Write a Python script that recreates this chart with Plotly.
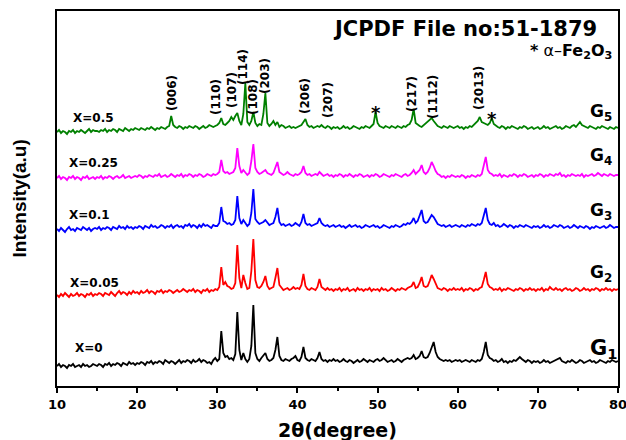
import numpy as np
import plotly.graph_objects as go

# 2-theta sampling grid: 10 .. 80 degrees, step 0.25
X_START, X_STEP, N_PTS = 10.0, 0.25, 281
two_theta = np.round(X_START + X_STEP * np.arange(N_PTS), 2)

# intensities (a.u.), 20 values per row = 5 degrees per row
g1 = [
    20,22,19,21,20,18,21,20,22,19,20,21,19,22,20,21,19,20,22,21,
    20,22,21,19,22,21,23,20,22,21,23,22,20,23,22,21,24,22,23,21,
    23,22,24,23,21,24,23,25,22,24,23,25,24,22,26,24,23,25,24,22,
    24,26,23,25,24,26,25,23,26,24,25,27,24,26,25,23,24,22,26,28,
    25,27,55,33,29,30,27,28,26,32,74,36,26,33,27,24,27,40,81,33,
    27,25,28,30,33,27,25,26,28,36,49,30,26,25,27,26,25,27,28,30,
    26,25,29,39,28,26,25,27,26,25,28,34,27,25,26,24,26,25,27,25,
    26,24,25,27,25,24,26,25,23,25,26,24,25,27,25,24,26,25,24,26,
    27,25,26,28,26,24,25,26,24,25,27,25,24,26,27,28,27,28,31,27,
    28,30,35,29,28,29,33,38,44,34,29,27,26,25,26,25,26,24,25,26,
    25,26,24,25,26,25,24,26,25,24,26,25,27,34,44,31,28,27,25,26,
    24,25,27,24,25,23,25,24,26,25,27,29,27,25,24,26,25,23,25,24,
    25,23,24,26,24,25,23,24,25,26,27,28,25,24,23,25,24,26,24,23,
    24,26,25,23,24,25,26,24,25,23,24,26,25,24,23,25,24,26,25,24,
    25,
]
g2 = [
    21,19,22,20,23,21,19,22,20,21,23,20,22,21,19,22,21,23,20,22,
    21,23,22,20,23,22,21,24,22,20,23,25,22,24,23,21,24,22,25,23,
    24,22,25,23,24,26,23,25,24,22,25,24,26,23,25,24,26,25,23,25,
    26,24,25,27,25,24,26,25,27,24,26,25,23,26,25,27,24,26,25,27,
    26,29,49,31,34,30,29,27,28,33,71,38,28,41,33,27,28,45,77,36,
    29,28,30,34,40,30,27,28,29,38,48,31,28,26,27,28,26,27,29,27,
    28,27,31,42,30,27,26,28,27,26,29,37,29,27,26,28,26,27,25,27,
    26,28,25,27,26,28,25,26,27,25,28,26,27,25,27,26,28,25,27,26,
    27,25,28,26,27,25,26,28,26,25,27,26,28,27,26,28,29,30,34,28,
    29,33,39,30,29,30,35,41,37,32,28,27,26,28,27,25,27,26,28,26,
    27,26,28,25,27,26,28,27,25,27,26,28,29,36,44,32,29,28,26,27,
    26,28,25,27,26,28,27,26,25,27,26,28,27,25,27,26,28,26,27,25,
    27,26,28,25,27,26,29,27,26,28,26,27,25,27,28,26,27,25,26,28,
    27,25,26,28,26,27,25,27,26,28,27,25,27,26,28,26,27,25,27,26,
    27,
]
g3 = [
    22,20,23,21,19,22,24,21,22,20,23,22,21,24,22,21,23,20,22,23,
    22,24,21,23,22,24,23,21,24,23,22,25,23,24,22,25,23,24,22,24,
    23,25,24,22,25,24,23,26,24,25,23,24,26,25,23,25,24,26,23,25,
    26,24,25,23,26,25,27,24,26,25,23,26,24,27,25,26,24,23,26,25,
    25,28,44,30,29,27,28,26,27,31,55,33,27,31,28,25,27,38,62,32,
    29,27,28,29,31,28,26,27,28,34,43,29,26,27,25,26,27,25,26,28,
    26,25,29,37,28,26,27,25,26,27,28,33,28,26,25,26,24,25,26,24,
    25,26,24,25,23,25,26,24,25,26,24,25,23,24,26,25,24,25,26,24,
    25,23,24,26,25,24,23,25,24,26,25,24,25,27,26,28,27,29,33,28,
    30,36,41,30,28,29,33,36,34,30,27,26,25,26,24,25,26,24,25,26,
    25,24,26,25,24,26,25,27,26,25,27,26,28,35,43,31,27,26,28,25,
    26,24,25,27,25,24,26,25,23,25,24,26,25,24,26,25,24,23,25,24,
    25,23,24,26,24,25,23,24,26,25,24,26,25,23,24,25,23,24,26,24,
    23,25,24,23,25,24,22,24,23,25,24,23,24,25,23,24,26,24,23,24,
    24,
]
g4 = [
    23,25,22,24,23,21,24,23,25,22,24,23,21,24,23,25,22,23,24,22,
    24,23,25,22,24,23,25,24,22,24,25,23,24,26,23,24,25,23,24,25,
    24,26,25,23,25,24,26,25,24,26,25,27,24,25,26,24,25,27,25,24,
    26,25,27,24,26,25,27,26,24,26,25,27,26,24,25,27,26,25,27,26,
    27,29,41,30,28,29,27,28,29,33,53,35,28,31,28,26,28,40,57,33,
    29,27,28,30,31,28,27,26,28,33,39,29,27,26,27,29,27,26,25,27,
    26,27,29,35,28,26,27,25,26,27,26,29,27,25,26,27,25,26,24,26,
    25,27,26,24,26,25,27,25,24,26,25,27,26,24,25,26,24,26,25,27,
    26,24,25,27,26,25,24,26,25,27,26,25,24,26,27,25,26,28,31,27,
    29,31,36,29,27,29,33,39,35,30,27,26,24,25,23,25,24,26,25,24,
    25,24,26,25,23,25,24,26,25,24,26,25,27,35,44,31,28,27,25,26,
    25,27,24,26,25,24,26,25,27,26,24,26,25,27,26,24,25,26,24,26,
    25,27,26,24,26,25,27,26,25,27,26,28,25,26,24,26,25,27,26,25,
    26,25,27,24,26,25,26,27,25,26,28,26,25,27,26,25,27,26,25,26,
    26,
]
g5 = [
    22,24,21,23,22,20,23,22,24,21,23,22,24,22,21,23,25,22,24,23,
    23,22,24,23,25,22,24,23,25,24,22,25,24,23,26,24,23,25,24,26,
    25,24,26,25,24,26,25,27,25,24,26,25,27,26,25,27,28,38,29,27,
    26,28,27,25,27,26,28,27,26,28,27,25,27,28,26,27,29,28,27,28,
    29,31,36,30,29,31,33,37,34,38,41,33,29,40,71,32,29,33,42,31,
    28,30,29,40,61,31,28,30,33,29,32,27,29,28,26,27,28,26,27,26,
    27,28,29,32,35,29,27,28,26,27,28,27,29,27,26,28,27,25,27,26,
    27,25,26,28,26,27,25,26,28,27,26,25,27,26,28,27,26,28,30,42,
    31,28,27,26,28,27,26,28,27,26,28,27,26,28,27,29,30,34,45,31,
    29,28,27,29,30,32,34,36,33,30,28,27,26,28,27,26,28,27,26,27,
    28,26,27,25,27,26,28,27,29,31,33,37,32,31,30,29,31,36,30,28,
    27,26,28,27,25,27,26,28,27,26,25,27,26,28,27,25,26,27,25,26,
    27,25,26,28,26,27,25,26,27,28,26,27,25,26,28,27,26,28,29,27,
    30,32,29,28,27,26,28,27,26,25,27,26,28,27,26,25,27,26,25,27,
    26,
]

series = [g1, g2, g3, g4, g5]
offsets = [0, 70, 135, 185, 232]
colors = ["#000000", "#FF0000", "#0000FF", "#FF00FF", "#008000"]
sample_labels = ["X=0", "X=0.05", "X=0.1", "X=0.25", "X=0.5"]
sample_label_pos = [(12.0, 38), (11.37, 103), (11.25, 171), (11.25, 223), (11.75, 268)]
g_names = ["G<sub>1</sub>", "G<sub>2</sub>", "G<sub>3</sub>", "G<sub>4</sub>", "G<sub>5</sub>"]
g_pos_y = [37, 113, 175, 230, 274]
g_sizes = [21, 17, 17, 17, 17]

hkl_labels = ["(006)", "(110)", "(107)", "(114)", "(108)", "(203)", "(206)", "(207)", "(217)", "(1112)", "(2013)"]
hkl_x = [24.35, 29.84, 31.84, 33.21, 34.46, 35.96, 40.95, 43.82, 54.30, 56.92, 62.66]
hkl_y = [293, 289, 296, 319, 289, 310, 290, 286, 292, 289, 298]
star_x = [49.81, 64.28]
star_y = [274, 268]

BOLD = "DejaVu Sans"

fig = go.Figure()
for ys, off, col in zip(series, offsets, colors):
    fig.add_trace(go.Scatter(
        x=two_theta, y=np.array(ys) + off, mode="lines",
        line=dict(color=col, width=1.8), showlegend=False, hoverinfo="skip"))

ann = []
for lab, (ax, ay) in zip(sample_labels, sample_label_pos):
    ann.append(dict(x=ax, y=ay, text="<b>" + lab + "</b>", xanchor="left", yanchor="middle",
                    font=dict(family=BOLD, size=12, color="#000")))
for name, gy, gs in zip(g_names, g_pos_y, g_sizes):
    ann.append(dict(x=76.3, y=gy, text="<b>" + name + "</b>", xanchor="left", yanchor="middle",
                    font=dict(family=BOLD, size=gs, color="#000")))
for lab, hx, hy in zip(hkl_labels, hkl_x, hkl_y):
    ann.append(dict(x=hx, y=hy, text="<b>" + lab + "</b>", textangle=-90,
                    xanchor="center", yanchor="middle",
                    font=dict(family=BOLD, size=12, color="#000")))
for sx, sy in zip(star_x, star_y):
    ann.append(dict(x=sx, y=sy, text="<b>*</b>", xanchor="center", yanchor="middle",
                    font=dict(family=BOLD, size=18, color="#000")))
ann.append(dict(x=77.6, y=357, text="<b>JCPDF File no:51-1879</b>", xanchor="right", yanchor="middle",
                font=dict(family=BOLD, size=21, color="#000")))
for a in ann:
    a.update(xref="x", yref="y", showarrow=False)

# paper-positioned texts
ann.append(dict(x=0.993, y=0.893, xref="paper", yref="paper", showarrow=False,
                text="<b>*</b> α–<b>Fe<sub>2</sub>O<sub>3</sub></b>",
                xanchor="right", yanchor="middle",
                font=dict(family=BOLD, size=16, color="#000")))
ann.append(dict(x=0.5, y=-0.117, xref="paper", yref="paper", showarrow=False,
                text="<b>2θ(degree)</b>", xanchor="center", yanchor="middle",
                font=dict(family=BOLD, size=19, color="#000")))
ann.append(dict(x=-0.066, y=0.50, xref="paper", yref="paper", showarrow=False,
                text="<b>Intensity(a.u)</b>", textangle=-90, xanchor="center", yanchor="middle",
                font=dict(family="Liberation Sans", size=19, color="#000")))

fig.update_layout(
    width=626, height=440,
    margin=dict(l=57, r=8, t=11, b=54),
    paper_bgcolor="white", plot_bgcolor="white",
    annotations=ann,
    xaxis=dict(
        range=[10, 80], dtick=10, tick0=10, automargin=False, ticklabeloverflow="allow",
        showline=True, linecolor="#000", linewidth=2, mirror=True,
        ticks="outside", ticklen=5, tickwidth=2, tickcolor="#000",
        minor=dict(dtick=5, ticks="outside", ticklen=3, tickwidth=1.5, tickcolor="#000"),
        showgrid=False, zeroline=False,
        tickfont=dict(family=BOLD, size=13, color="#000", weight="bold"),
    ),
    yaxis=dict(
        range=[0, 375], automargin=False,
        showline=True, linecolor="#000", linewidth=2, mirror=True,
        ticks="", showticklabels=False, showgrid=False, zeroline=False,
    ),
)

fig.write_html("out.html")
